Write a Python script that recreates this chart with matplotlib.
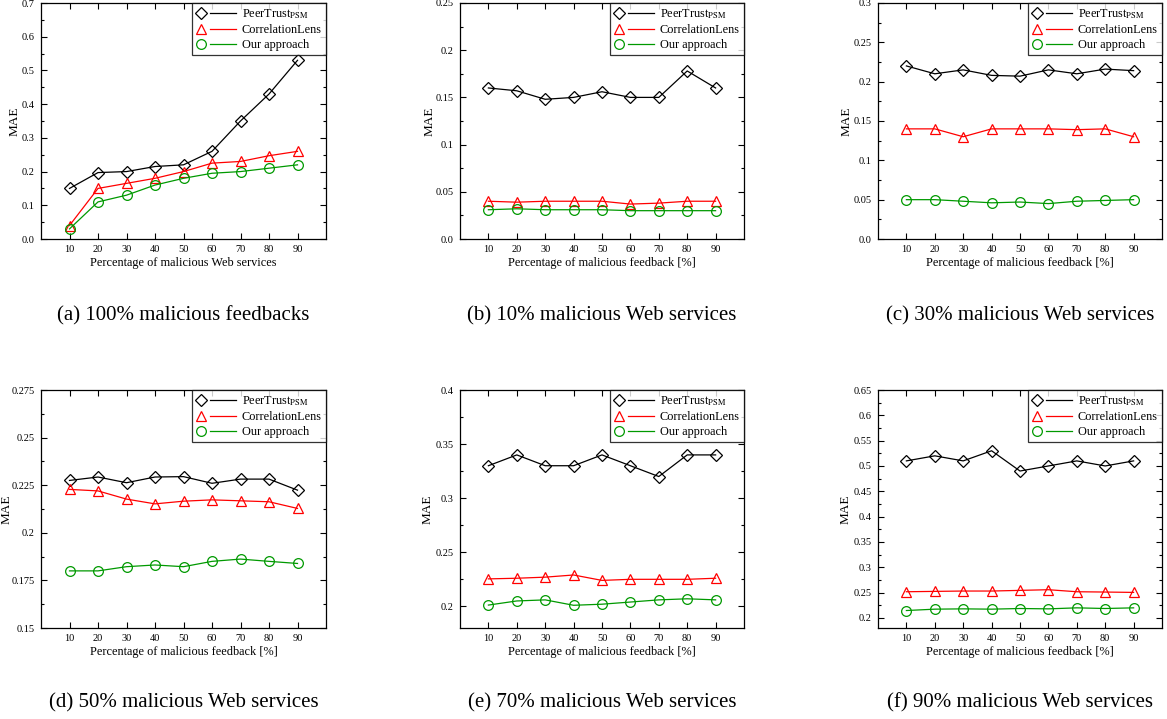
import numpy as np
import matplotlib
matplotlib.use('Agg')
import matplotlib.pyplot as plt
from matplotlib.lines import Line2D
from matplotlib.legend_handler import HandlerBase
from matplotlib.ticker import MultipleLocator, FuncFormatter

plt.rcParams['font.family'] = 'Liberation Serif'
plt.rcParams['mathtext.fontset'] = 'stix'
plt.rcParams['xtick.direction'] = 'in'
plt.rcParams['ytick.direction'] = 'in'
plt.rcParams['xtick.top'] = True
plt.rcParams['ytick.right'] = True

x = [10, 20, 30, 40, 50, 60, 70, 80, 90]
names = ['PeerTrust$_{\\mathrm{PSM}}$', 'CorrelationLens', 'Our approach']

# (a) 100% malicious feedbacks
peer_a = [0.15, 0.197, 0.20, 0.215, 0.22, 0.26, 0.35, 0.43, 0.53]
corr_a = [0.04, 0.15, 0.165, 0.18, 0.20, 0.225, 0.23, 0.247, 0.26]
ours_a = [0.03, 0.11, 0.13, 0.16, 0.18, 0.195, 0.20, 0.21, 0.22]
# (b) 10% malicious Web services
peer_b = [0.16, 0.157, 0.148, 0.15, 0.156, 0.15, 0.15, 0.178, 0.16]
corr_b = [0.04, 0.039, 0.04, 0.04, 0.04, 0.037, 0.038, 0.04, 0.04]
ours_b = [0.031, 0.032, 0.031, 0.031, 0.031, 0.030, 0.030, 0.030, 0.030]
# (c) 30% malicious Web services
peer_c = [0.22, 0.21, 0.215, 0.208, 0.207, 0.215, 0.21, 0.216, 0.214]
corr_c = [0.14, 0.14, 0.13, 0.14, 0.14, 0.14, 0.139, 0.14, 0.13]
ours_c = [0.05, 0.05, 0.048, 0.046, 0.047, 0.045, 0.048, 0.049, 0.05]
# (d) 50% malicious Web services
peer_d = [0.2275, 0.2293, 0.2263, 0.2293, 0.2295, 0.226, 0.2282, 0.2282, 0.2224]
corr_d = [0.2228, 0.222, 0.2177, 0.2152, 0.2166, 0.2173, 0.2168, 0.2163, 0.2128]
ours_d = [0.180, 0.180, 0.1822, 0.1831, 0.1822, 0.185, 0.1862, 0.185, 0.1839]
# (e) 70% malicious Web services
peer_e = [0.33, 0.34, 0.33, 0.33, 0.34, 0.33, 0.32, 0.34, 0.34]
corr_e = [0.2254, 0.226, 0.227, 0.229, 0.224, 0.225, 0.225, 0.225, 0.226]
ours_e = [0.2012, 0.205, 0.206, 0.201, 0.202, 0.204, 0.206, 0.207, 0.206]
# (f) 90% malicious Web services
peer_f = [0.51, 0.52, 0.51, 0.53, 0.49, 0.50, 0.51, 0.50, 0.51]
corr_f = [0.2516, 0.2523, 0.253, 0.253, 0.2543, 0.2556, 0.2516, 0.251, 0.2503]
ours_f = [0.2145, 0.2172, 0.2178, 0.2172, 0.2185, 0.2178, 0.2198, 0.2185, 0.2198]

captions = ['(a) 100% malicious feedbacks', '(b) 10% malicious Web services',
            '(c) 30% malicious Web services', '(d) 50% malicious Web services',
            '(e) 70% malicious Web services', '(f) 90% malicious Web services']
xlabels = ['Percentage of malicious Web services'] + ['Percentage of malicious feedback [%]'] * 5
panels = [(peer_a, corr_a, ours_a), (peer_b, corr_b, ours_b), (peer_c, corr_c, ours_c),
          (peer_d, corr_d, ours_d), (peer_e, corr_e, ours_e), (peer_f, corr_f, ours_f)]
ylims = [(0, 0.7), (0, 0.25), (0, 0.3), (0.15, 0.275), (0.18, 0.4), (0.18, 0.65)]
ysteps = [0.1, 0.05, 0.05, 0.025, 0.05, 0.05]


class MarkerThenLine(HandlerBase):
    # gnuplot style key: marker on the left, short line on the right
    def create_artists(self, legend, orig_handle, xdescent, ydescent,
                       width, height, fontsize, trans):
        y = height / 2 - ydescent
        m = Line2D([-xdescent + 0.12 * width], [y], linestyle='none',
                   marker=orig_handle.get_marker(),
                   markersize=orig_handle.get_markersize(),
                   markerfacecolor='none',
                   markeredgecolor=orig_handle.get_markeredgecolor(),
                   markeredgewidth=orig_handle.get_markeredgewidth(),
                   transform=trans)
        l = Line2D([-xdescent + 0.35 * width, -xdescent + width], [y, y],
                   color=orig_handle.get_color(), linewidth=orig_handle.get_linewidth(),
                   transform=trans)
        return [m, l]


def fmt(v, pos):
    if abs(v) < 1e-9:
        return '0.0'
    return '%g' % round(v, 4)


W, H = 1167, 719
fig = plt.figure(figsize=(W / 100, H / 100), dpi=100)

cols = [(41, 326), (460, 744), (878, 1162)]
rows = [(3, 239), (390, 628)]
cap_y = [316, 703]
mae_x = [15, 430, 847, 7, 428, 846]

styles = [('D', 'black'), ('^', 'red'), ('o', '#009900')]

for i, series in enumerate(panels):
    r, c = divmod(i, 3)
    x0, x1 = cols[c]
    y0, y1 = rows[r]
    ax = fig.add_axes([x0 / W, 1 - y1 / H, (x1 - x0) / W, (y1 - y0) / H])
    handles = []
    for vals, (mk, col), name in zip(series, styles, names):
        h, = ax.plot(x, vals, color=col, linewidth=0.9, marker=mk,
                     markersize=7 if mk != 'D' else 6, markerfacecolor='none',
                     markeredgecolor=col, markeredgewidth=0.9, label=name)
        handles.append(h)
    ax.set_xlim(0, 100)
    ax.set_ylim(*ylims[i])
    ax.set_xticks(x)
    ax.yaxis.set_major_locator(MultipleLocator(ysteps[i]))
    ax.yaxis.set_minor_locator(MultipleLocator(ysteps[i] / 2))
    ax.yaxis.set_major_formatter(FuncFormatter(fmt))
    ax.tick_params(which='major', length=4, width=0.8, labelsize=7.5, pad=4.5)
    ax.tick_params(which='minor', length=2, width=0.8)
    for s in ax.spines.values():
        s.set_linewidth(0.9)
    ax.set_xlabel(xlabels[i], fontsize=8.8, labelpad=2)
    ax.set_ylabel('MAE', fontsize=9.5, va='center')
    ax.yaxis.set_label_coords((mae_x[i] - x0) / (x1 - x0), 0.5)
    leg = ax.legend(handles=handles, loc='upper right', borderaxespad=0,
                    fontsize=8.8, handlelength=3.2, handletextpad=0.5,
                    labelspacing=0.25, borderpad=0.35, fancybox=False,
                    handler_map={Line2D: MarkerThenLine()})
    leg.get_frame().set_edgecolor('black')
    leg.get_frame().set_linewidth(0.9)
    fig.text((x0 + x1) / 2 / W, 1 - cap_y[r] / H, captions[i], ha='center',
             va='center', fontsize=15)

fig.savefig('out.png', dpi=100)
